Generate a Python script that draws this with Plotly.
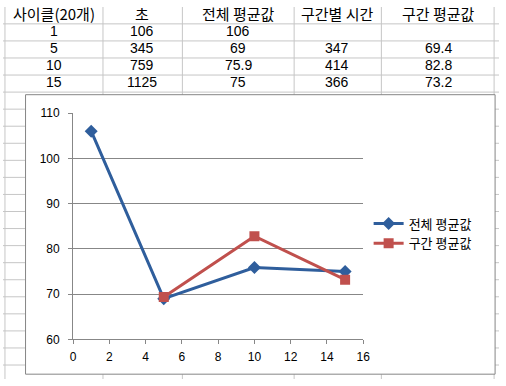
import plotly.graph_objects as go

W, H = 506, 386

# ---- data ----
headers = ["사이클(20개)", "초", "전체 평균값", "구간별 시간", "구간 평균값"]
cycles = [1, 5, 10, 15]
seconds = [106, 345, 759, 1125]
overall_avg = [106, 69, 75.9, 75]
interval_time = [None, 347, 414, 366]
interval_avg = [None, 69.4, 82.8, 73.2]
x_ticks = [0, 2, 4, 6, 8, 10, 12, 14, 16]
y_ticks = [60, 70, 80, 90, 100, 110]

BLUE = "#2F5E9C"
RED = "#C0504D"
GRID = "#878787"
SHEET = "#C6C6C6"
KFONT = "Noto Sans CJK KR"


def fx(px):
    return px / W


def fy(py):
    return 1 - py / H


fig = go.Figure()

fig.add_trace(go.Scatter(
    x=cycles, y=overall_avg, name="전체 평균값", mode="lines+markers",
    line=dict(color=BLUE, width=3),
    marker=dict(symbol="diamond", size=10, color=BLUE),
))
ix = [c for c, v in zip(cycles, interval_avg) if v is not None]
iy = [v for v in interval_avg if v is not None]
fig.add_trace(go.Scatter(
    x=ix, y=iy, name="구간 평균값", mode="lines+markers",
    line=dict(color=RED, width=3),
    marker=dict(symbol="square", size=10, color=RED),
))

shapes = []
# spreadsheet grid
col_lines = [2, 102, 183, 297, 386, 501]
row_lines = [17.5 + 17.7 * k for k in range(21)]
for cx in col_lines:
    shapes.append(dict(type="line", xref="paper", yref="paper", layer="below",
                       x0=fx(cx), x1=fx(cx), y0=0, y1=1,
                       line=dict(color=SHEET, width=1)))
for ry in row_lines:
    shapes.append(dict(type="line", xref="paper", yref="paper", layer="below",
                       x0=0, x1=1, y0=fy(ry), y1=fy(ry),
                       line=dict(color=SHEET, width=1)))
# chart box
shapes.append(dict(type="rect", xref="paper", yref="paper", layer="below",
                   x0=fx(23), x1=fx(502), y0=fy(381), y1=fy(91),
                   fillcolor="white", line=dict(color="#868686", width=1)))

annotations = []
col_centers = [52, 142, 240, 341, 444]
row_centers = [7, 24.5, 42.2, 59.9, 77.6]
for c, h in enumerate(headers):
    annotations.append(dict(text=h, x=fx(col_centers[c]), y=fy(row_centers[0]),
                            xref="paper", yref="paper", showarrow=False,
                            xanchor="center", yanchor="middle",
                            font=dict(family=KFONT, size=15, color="black")))
cols = [cycles, seconds, overall_avg, interval_time, interval_avg]
for c, col in enumerate(cols):
    for r, v in enumerate(col):
        if v is None:
            continue
        annotations.append(dict(text=str(v), x=fx(col_centers[c]), y=fy(row_centers[r + 1]),
                                xref="paper", yref="paper", showarrow=False,
                                xanchor="center", yanchor="middle",
                                font=dict(family="Liberation Sans", size=14, color="black")))

fig.update_layout(
    width=W, height=H,
    margin=dict(l=0, r=0, t=0, b=0),
    paper_bgcolor="white",
    plot_bgcolor="rgba(0,0,0,0)",
    shapes=shapes,
    annotations=annotations,
    showlegend=True,
    legend=dict(x=fx(373), y=fy(235), xanchor="left", yanchor="middle",
                bgcolor="rgba(0,0,0,0)", font=dict(family=KFONT, size=13, color="black"),
                itemwidth=30, tracegroupgap=0),
    xaxis=dict(domain=[fx(71.5), fx(367.5)], range=[0, 16], tickvals=x_ticks,
               showgrid=False, zeroline=False, showline=True, linecolor=GRID, linewidth=1,
               ticks="outside", ticklen=4, tickcolor=GRID, ticklabelstandoff=2,
               tickfont=dict(family="Liberation Sans", size=12, color="black")),
    yaxis=dict(domain=[fy(345), fy(110)], range=[60, 110], tickvals=y_ticks,
               showgrid=True, gridcolor=GRID, gridwidth=1, zeroline=False,
               showline=True, linecolor=GRID, linewidth=1,
               ticks="outside", ticklen=4, tickcolor=GRID, ticklabelstandoff=6,
               tickfont=dict(family="Liberation Sans", size=12, color="black")),
)

fig.write_html("out.html", config={"displayModeBar": False},
               post_script="document.body.style.margin='0';document.body.style.overflow='hidden';")
